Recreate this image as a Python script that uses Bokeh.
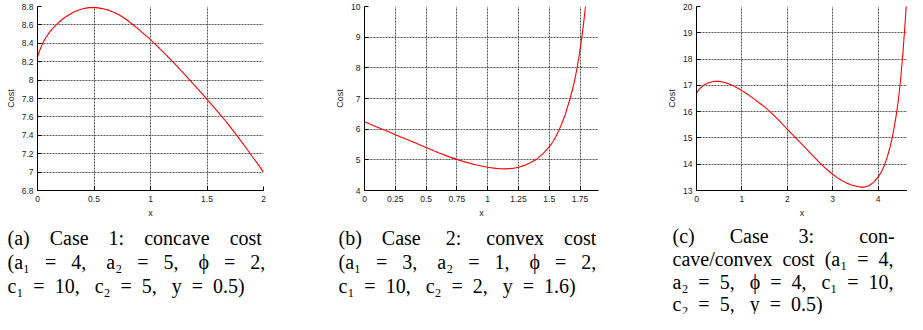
from bokeh.plotting import figure
from bokeh.models import Range1d, FixedTicker, Label
from bokeh.layouts import row, column
from bokeh.embed import file_html
from bokeh.resources import INLINE

# ---------------- data ----------------
case1_x = [0, 0.01, 0.02, 0.03, 0.05, 0.07, 0.10, 0.13, 0.16, 0.20, 0.24, 0.28, 0.32, 0.36,
           0.40, 0.44, 0.48, 0.52, 0.56, 0.60, 0.64, 0.68, 0.72, 0.76, 0.80, 0.84, 0.88,
           0.92, 0.96, 1.0, 1.05, 1.1, 1.15, 1.2, 1.25, 1.3, 1.35, 1.4, 1.45, 1.5, 1.55,
           1.6, 1.65, 1.7, 1.75, 1.8, 1.85, 1.9, 1.95, 2.0]
case1_cost = [8.25, 8.29, 8.325, 8.355, 8.41, 8.455, 8.51, 8.555, 8.595, 8.64, 8.68, 8.71,
              8.74, 8.76, 8.775, 8.785, 8.79, 8.788, 8.78, 8.77, 8.755, 8.735, 8.71, 8.68,
              8.645, 8.607, 8.567, 8.525, 8.483, 8.44, 8.381, 8.32, 8.258, 8.195, 8.131,
              8.065, 7.998, 7.93, 7.861, 7.79, 7.72, 7.65, 7.577, 7.50, 7.421, 7.34, 7.256,
              7.17, 7.086, 7.00]

case2_x = [0, 0.1, 0.2, 0.3, 0.4, 0.5, 0.6, 0.7, 0.8, 0.9, 1.0, 1.05, 1.1, 1.15, 1.2, 1.25,
           1.3, 1.35, 1.4, 1.45, 1.5, 1.53, 1.555, 1.578, 1.6, 1.63, 1.67, 1.70, 1.724,
           1.745, 1.763, 1.779, 1.793, 1.806]
case2_cost = [6.24, 6.07, 5.905, 5.74, 5.57, 5.40, 5.23, 5.08, 4.95, 4.84, 4.76, 4.73, 4.71,
              4.705, 4.72, 4.76, 4.82, 4.91, 5.03, 5.20, 5.42, 5.59, 5.77, 5.96, 6.16, 6.48,
              7.00, 7.47, 7.95, 8.45, 8.95, 9.45, 9.95, 10.45]

case3_x = [0, 0.05, 0.1, 0.15, 0.2, 0.3, 0.4, 0.5, 0.6, 0.7, 0.8, 0.9, 1.0, 1.1, 1.2, 1.3,
           1.4, 1.5, 1.6, 1.7, 1.8, 1.9, 2.0, 2.1, 2.2, 2.3, 2.4, 2.5, 2.6, 2.7, 2.8, 2.9,
           3.0, 3.1, 3.2, 3.3, 3.4, 3.5, 3.6, 3.7, 3.8, 3.9, 4.0, 4.05, 4.1, 4.15, 4.2,
           4.25, 4.3, 4.35, 4.4, 4.45, 4.5, 4.55, 4.6, 4.63]
case3_cost = [16.71, 16.83, 16.92, 16.99, 17.05, 17.12, 17.155, 17.15, 17.12, 17.065, 16.99,
              16.90, 16.80, 16.69, 16.57, 16.44, 16.31, 16.18, 16.03, 15.87, 15.70, 15.52,
              15.33, 15.15, 14.975, 14.80, 14.62, 14.44, 14.26, 14.08, 13.91, 13.76, 13.62,
              13.49, 13.38, 13.29, 13.22, 13.17, 13.13, 13.13, 13.18, 13.31, 13.51, 13.64,
              13.80, 14.00, 14.25, 14.55, 14.90, 15.33, 15.85, 16.45, 17.25, 18.25, 19.45,
              20.25]

case1_xticks = [0, 0.5, 1, 1.5, 2]
case1_xtick_labels = ["0", "0.5", "1", "1.5", "2"]
case1_yticks = [6.8, 7.0, 7.2, 7.4, 7.6, 7.8, 8.0, 8.2, 8.4, 8.6, 8.8]
case1_ytick_labels = ["6.8", "7", "7.2", "7.4", "7.6", "7.8", "8", "8.2", "8.4", "8.6", "8.8"]

case2_xticks = [0, 0.25, 0.5, 0.75, 1, 1.25, 1.5, 1.75]
case2_xtick_labels = ["0", "0.25", "0.5", "0.75", "1", "1.25", "1.5", "1.75"]
case2_yticks = [4, 5, 6, 7, 8, 9, 10]
case2_ytick_labels = ["4", "5", "6", "7", "8", "9", "10"]

case3_xticks = [0, 1, 2, 3, 4]
case3_xtick_labels = ["0", "1", "2", "3", "4"]
case3_yticks = [13, 14, 15, 16, 17, 18, 19, 20]
case3_ytick_labels = ["13", "14", "15", "16", "17", "18", "19", "20"]

x_label = "x"
y_label = "Cost"


def S(n):
    return "\u00a0" * n


A1, A2, C1, C2, PHI = "a\u2081", "a\u2082", "c\u2081", "c\u2082", "\u03d5"

caption1 = ["(a)" + S(4) + "Case" + S(4) + "1:" + S(4) + "concave" + S(4) + "cost",
            "(" + A1 + S(3) + "=" + S(3) + "4," + S(4) + A2 + S(3) + "=" + S(3) + "5,"
            + S(4) + PHI + S(3) + "=" + S(3) + "2,",
            C1 + S(2) + "=" + S(2) + "10," + S(3) + C2 + S(2) + "=" + S(2) + "5," + S(3)
            + "y" + S(2) + "=" + S(2) + "0.5)"]
caption2 = ["(b)" + S(4) + "Case" + S(5) + "2:" + S(5) + "convex" + S(4) + "cost",
            "(" + A1 + S(3) + "=" + S(3) + "3," + S(4) + A2 + S(3) + "=" + S(3) + "1,"
            + S(4) + PHI + S(3) + "=" + S(3) + "2,",
            C1 + S(2) + "=" + S(2) + "10," + S(3) + C2 + S(2) + "=" + S(2) + "2," + S(3)
            + "y" + S(2) + "=" + S(2) + "1.6)"]
caption3 = ["(c)" + S(7) + "Case" + S(6) + "3:" + S(9) + "con-",
            "cave/convex" + S(2) + "cost" + S(2) + "(" + A1 + S(2) + "=" + S(2) + "4,",
            A2 + S(2) + "=" + S(2) + "5," + S(3) + PHI + S(2) + "=" + S(2) + "4," + S(3)
            + C1 + S(2) + "=" + S(2) + "10,",
            C2 + S(2) + "=" + S(2) + "5," + S(3) + "y" + S(2) + "=" + S(2) + "0.5)"]

PLOT_H = 220
CAP_H = 94


def panel(xs, ys, xr, yr, xt, xtl, yt, ytl, width, bl, br):
    p = figure(width=width, height=PLOT_H, x_range=Range1d(*xr), y_range=Range1d(*yr),
               output_backend="svg", toolbar_location=None,
               min_border_left=bl, min_border_right=br, min_border_top=6,
               min_border_bottom=29)
    p.outline_line_color = None
    p.background_fill_color = "white"
    p.border_fill_color = "white"
    p.line(xs, ys, line_color="#ff0000", line_width=1.1)

    for ax, ticks, labels in ((p.xaxis[0], xt, xtl), (p.yaxis[0], yt, ytl)):
        ax.ticker = FixedTicker(ticks=ticks)
        ax.major_label_overrides = {t: l for t, l in zip(ticks, labels)}
        ax.minor_tick_line_color = None
        ax.major_tick_in = 4
        ax.major_tick_out = 0
        ax.major_tick_line_color = "black"
        ax.axis_line_color = "black"
        ax.major_label_text_font = "Liberation Sans"
        ax.major_label_text_font_size = "8.5px"
        ax.major_label_text_color = "#222222"
        ax.major_label_standoff = 4
        ax.axis_label_text_font = "Liberation Sans"
        ax.axis_label_text_font_size = "9px"
        ax.axis_label_text_font_style = "normal"
        ax.axis_label_text_color = "#222222"
        ax.axis_label_standoff = 3
    p.xaxis.axis_label = x_label
    p.yaxis.axis_label = y_label
    p.xaxis.major_label_standoff = 5

    p.xgrid.ticker = FixedTicker(ticks=xt)
    p.ygrid.ticker = FixedTicker(ticks=yt)
    for g in (p.xgrid[0], p.ygrid[0]):
        g.grid_line_color = "#555555"
        g.grid_line_dash = "2 1"
        g.grid_line_width = 1
    return p


def caption_box(lines, width, dx, offsets):
    c = figure(width=width, height=CAP_H, x_range=Range1d(0, 1), y_range=Range1d(0, 1),
               x_axis_type=None, y_axis_type=None, output_backend="svg",
               toolbar_location=None, min_border=0, frame_align=False)
    c.outline_line_color = None
    c.grid.visible = False
    for line, dy in zip(lines, offsets):
        c.add_layout(Label(x=dx, y=dy, x_units="screen", y_units="screen",
                           text=line, text_font="Liberation Serif",
                           text_font_size="20px", text_color="black",
                           text_baseline="middle", text_align="left"))
    return c


p1 = panel(case1_x, case1_cost, (0, 2), (6.8, 8.8), case1_xticks, case1_xtick_labels,
           case1_yticks, case1_ytick_labels, 322, 37, 59)
p2 = panel(case2_x, case2_cost, (0, 1.9), (4, 10), case2_xticks, case2_xtick_labels,
           case2_yticks, case2_ytick_labels, 318, 42, 42)
p3 = panel(case3_x, case3_cost, (0, 4.65), (13, 20), case3_xticks, case3_xtick_labels,
           case3_yticks, case3_ytick_labels, 267, 56, 0)

c1 = caption_box(caption1, 322, 7, [77, 53, 29])
c2 = caption_box(caption2, 318, 16, [77, 53, 29])
c3 = caption_box(caption3, 267, 32, [79, 56, 33, 11])

layout = row(column(p1, c1), column(p2, c2), column(p3, c3))
open("out.html", "w").write(file_html(layout, INLINE))
